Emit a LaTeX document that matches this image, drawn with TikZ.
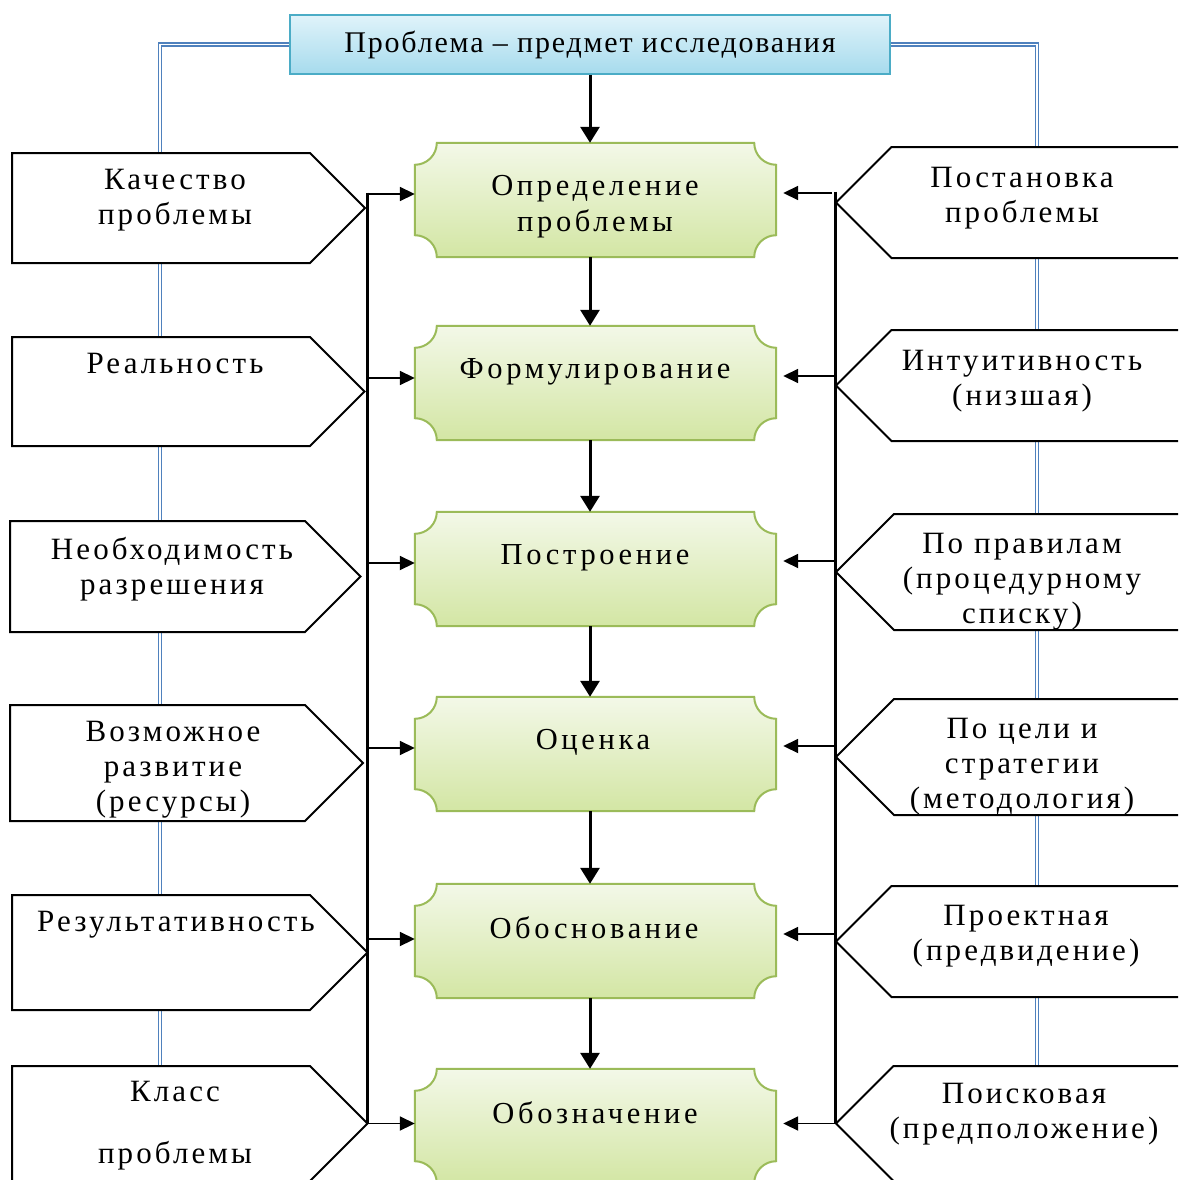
\documentclass[tikz,border=0pt]{standalone}
\usepackage{fontspec}
\setmainfont{Liberation Serif}[LetterSpace=12]
\newfontfamily\signfont{Liberation Serif}[LetterSpace=10]
\newfontfamily\headfont{Liberation Serif}[LetterSpace=6]
\usetikzlibrary{arrows.meta,calc}

\definecolor{linkblue}{RGB}{79,129,189}
\definecolor{headedge}{RGB}{75,172,198}
\definecolor{headtop}{RGB}{224,243,250}
\definecolor{headbot}{RGB}{166,219,237}
\definecolor{stepedge}{RGB}{155,187,89}
\definecolor{steptop}{RGB}{243,248,232}
\definecolor{stepbot}{RGB}{211,230,164}

\tikzset{
  linkline/.style={draw=linkblue, line width=1.3pt, double=white, double distance=1.6pt},
  signline/.style={draw=black, line width=2pt, fill=white, line join=miter},
  signtext/.style={font=\signfont\fontsize{31}{35}\selectfont, align=center, inner sep=0pt, anchor=north},
  steptext/.style={font=\fontsize{30.5}{36}\selectfont, align=center, inner sep=0pt, anchor=north},
  stepbox/.style={minimum width=361pt, minimum height=114pt, inner sep=0pt},
  headbox/.style={draw=headedge, line width=2pt, top color=headtop, bottom color=headbot,
    minimum width=600pt, minimum height=59pt, inner sep=0pt,
    font=\headfont\fontsize{30}{34}\selectfont},
  bus/.style={line width=3pt, line cap=butt},
  down/.style={line width=3pt, -{Triangle[length=16pt,width=19pt]}},
  feed/.style={line width=1.8pt, -{Triangle[length=15pt,width=14pt]}},
}

% pointed sign: body from x #2 to #3, rows #4 (top) to #5 (bottom), tip to the right
\newcommand\signright[5]{%
  \draw[signline] (#2,-#4) -- (#3,-#4)
    -- ({#3+(#5-#4)/2},{-(#4+#5)/2}) coordinate (#1)
    -- (#3,-#5) -- (#2,-#5) -- cycle;}
% pointed sign: tip at x #2, body from the tip's base to the right edge
\newcommand\signleft[4]{%
  \draw[signline] (1200,-#3) -- ({#2+(#4-#3)/2},-#3)
    -- (#2,{-(#3+#4)/2}) coordinate (#1)
    -- ({#2+(#4-#3)/2},-#4) -- (1200,-#4) -- cycle;}
% step box outline with concave rounded corners
\newcommand\scallop[1]{%
  \shade[top color=steptop, bottom color=stepbot, draw=stepedge, line width=2pt]
    let \p1=(#1.north west), \p2=(#1.south east) in
    (\x1+22,\y1) -- (\x2-22,\y1) arc[start angle=180,end angle=270,radius=22]
    -- (\x2,\y2+22) arc[start angle=90,end angle=180,radius=22]
    -- (\x1+22,\y2) arc[start angle=0,end angle=90,radius=22]
    -- (\x1,\y1-22) arc[start angle=-90,end angle=0,radius=22] -- cycle;}

\begin{document}
\begin{tikzpicture}[x=1pt,y=1pt]
\useasboundingbox (0,0) rectangle (1178,-1180);
\clip (0,0) rectangle (1178,-1180);

% heading
\node[headbox] (T) at (590,-44.5) {Проблема – предмет исследования};

% blue double links from the heading down both sides
\coordinate (lfoot) at (160,-1185);
\coordinate (rfoot) at (1037,-1185);
\draw[linkline] (T.west) -| (lfoot);
\draw[linkline] (T.east) -| (rfoot);

% left signs
\signright{L1}{12}{310}{153}{263}
\signright{L2}{12}{310}{337}{446}
\signright{L3}{10}{305}{521}{632}
\signright{L4}{10}{305}{705}{821}
\signright{L5}{12}{310}{895}{1010}
\signright{L6}{12}{310}{1066}{1181}
\node[signtext] (L1t) at (175,-169) {Качество\\проблемы};
\node[signtext] (L2t) at (175,-353) {Реальность};
\node[signtext] (L3t) at (172,-537) {Необходимость\\разрешения};
\node[signtext] (L4t) at (173,-721) {Возможное\\развитие\\(ресурсы)};
\node[signtext] (L5t) at (176,-911) {Результативность};
\node[signtext] (L6t) at (175,-1081) {Класс\\[27pt]проблемы};

% right signs
\signleft{R1}{836}{147}{258}
\signleft{R2}{836}{330}{441}
\signleft{R3}{836}{514}{630}
\signleft{R4}{836}{699}{815}
\signleft{R5}{836}{886}{997}
\signleft{R6}{836}{1066}{1181}
\node[signtext] (R1t) at (1022,-167) {Постановка\\проблемы};
\node[signtext] (R2t) at (1022,-350) {Интуитивность\\(низшая)};
\node[signtext] (R3t) at (1022,-533) {По правилам\\(процедурному\\списку)};
\node[signtext] (R4t) at (1022,-718) {По цели и\\стратегии\\(методология)};
\node[signtext] (R5t) at (1026,-905) {Проектная\\(предвидение)};
\node[signtext] (R6t) at (1024,-1083) {Поисковая\\(предположение)};

% step boxes
\node[stepbox] (G1) at (595.5,-200) {};
\node[stepbox] (G2) at (595.5,-383) {};
\node[stepbox] (G3) at (595.5,-569) {};
\node[stepbox] (G4) at (595.5,-754) {};
\node[stepbox] (G5) at (595.5,-941) {};
\node[stepbox] (G6) at (595.5,-1126) {};
\foreach \g in {G1,G2,G3,G4,G5,G6} {\scallop{\g}}
\node[steptext] (G1t) at (595,-175) {Определение\\проблемы};
\node[steptext] (G2t) at (595,-358) {Формулирование};
\node[steptext] (G3t) at (595,-544) {Построение};
\node[steptext] (G4t) at (593,-729) {Оценка};
\node[steptext] (G5t) at (594,-916) {Обоснование};
\node[steptext] (G6t) at (595,-1101) {Обозначение};

% vertical chain, slightly left of the box centres
\draw[down] ([xshift=-5.5pt]G1.north |- T.south) -- ([xshift=-5.5pt]G1.north);
\draw[down] ([xshift=-5.5pt]G1.south) -- ([xshift=-5.5pt]G2.north);
\draw[down] ([xshift=-5.5pt]G2.south) -- ([xshift=-5.5pt]G3.north);
\draw[down] ([xshift=-5.5pt]G3.south) -- ([xshift=-5.5pt]G4.north);
\draw[down] ([xshift=-5.5pt]G4.south) -- ([xshift=-5.5pt]G5.north);
\draw[down] ([xshift=-5.5pt]G5.south) -- ([xshift=-5.5pt]G6.north);

% left collector bus and feeds
\coordinate (lb1) at (367,-194);
\coordinate (lb2) at (367,-378);
\coordinate (lb3) at (367,-563);
\coordinate (lb4) at (367,-748);
\coordinate (lb5) at (367,-939);
\coordinate (lb6) at (367,-1123.5);
\draw[bus] ($(lb1)+(0,1.5)$) -- (lb6);
\draw[feed] ($(lb1)+(2,0)$) -- (lb1 -| G1.west);
\draw[feed] (lb2) -- (lb2 -| G2.west);
\draw[feed] (lb3) -- (lb3 -| G3.west);
\draw[feed] (lb4) -- (lb4 -| G4.west);
\draw[feed] (lb5) -- (lb5 -| G5.west);
\draw[feed] (lb6) -- (lb6 -| G6.west);

% right collector bus and feeds
\coordinate (rb1) at (835,-193);
\coordinate (rb2) at (835,-376);
\coordinate (rb3) at (835,-561);
\coordinate (rb4) at (835,-746);
\coordinate (rb5) at (835,-934);
\coordinate (rb6) at (835,-1123.5);
\draw[bus] ($(rb1)+(0,1.5)$) -- (rb6);
\draw[feed, shorten >=7pt] ($(rb1)+(-3,0)$) -- (rb1 -| G1.east);
\draw[feed, shorten >=7pt] (rb2) -- (rb2 -| G2.east);
\draw[feed, shorten >=7pt] (rb3) -- (rb3 -| G3.east);
\draw[feed, shorten >=7pt] (rb4) -- (rb4 -| G4.east);
\draw[feed, shorten >=7pt] (rb5) -- (rb5 -| G5.east);
\draw[feed, shorten >=7pt] (rb6) -- (rb6 -| G6.east);
\end{tikzpicture}
\end{document}
